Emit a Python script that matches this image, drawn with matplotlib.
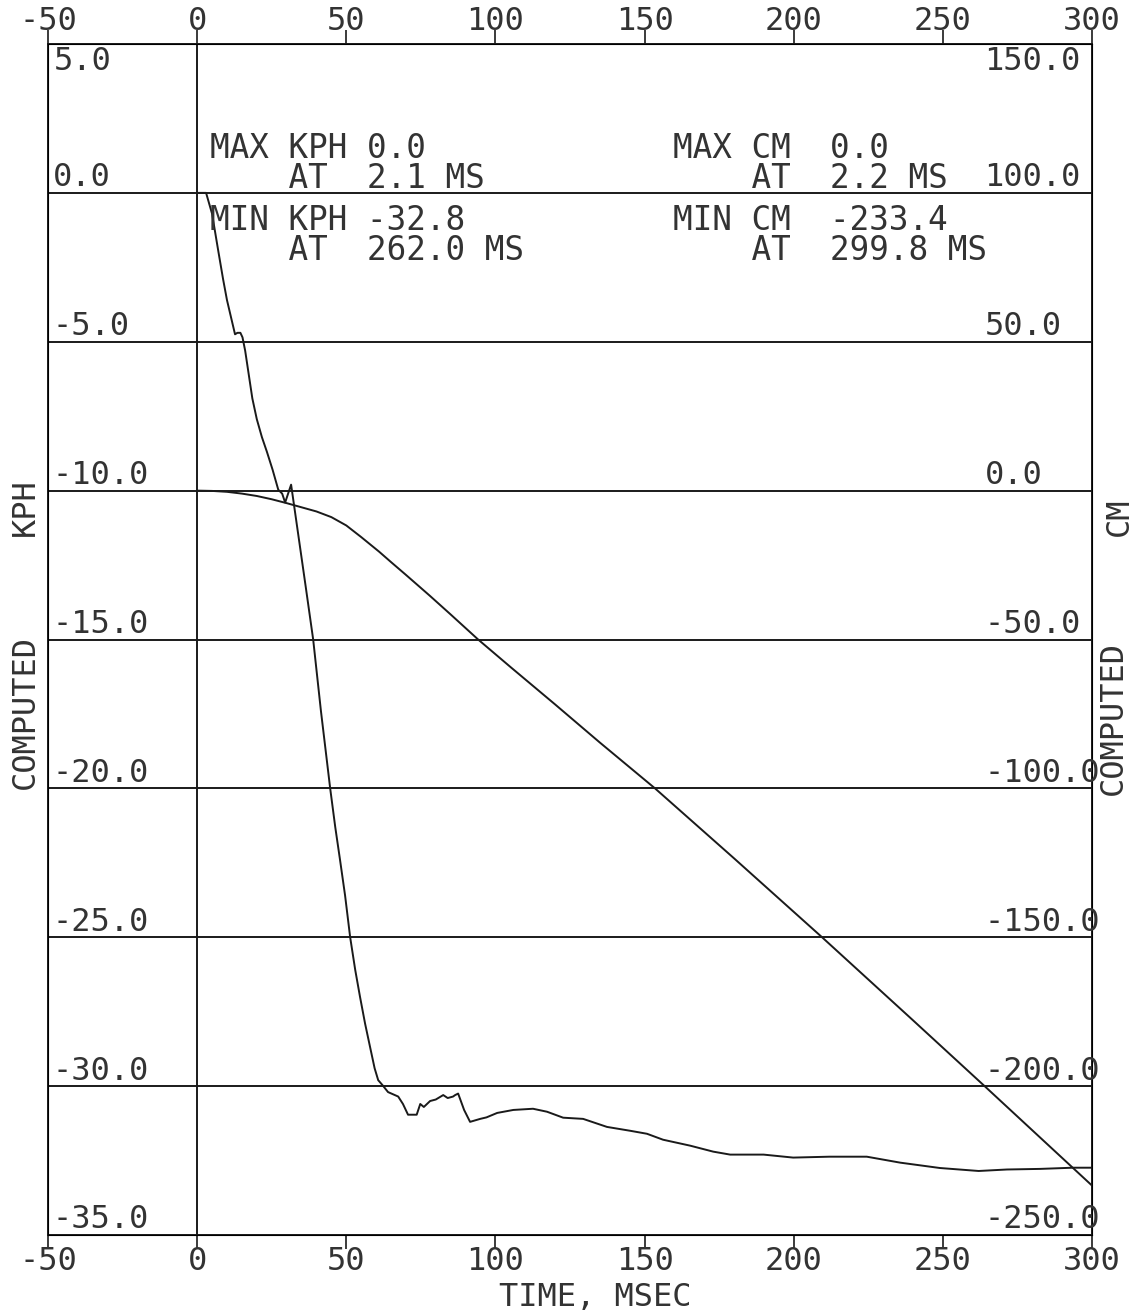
import numpy as np
import matplotlib
matplotlib.use('Agg')
import matplotlib.pyplot as plt

# computed velocity (kph) vs time (ms)
t_kph = [0, 3, 5, 7, 8.7, 10, 12.7, 13.5, 14.5, 15.2, 16.1, 17, 18.5, 20, 21.7, 23.4, 25.3,
         27.2, 28.5, 29.5, 30.5, 31.5, 32.5, 34.5, 36.5, 38.9, 41.5, 44.6, 46.3, 47.9,
         49.6, 51.3, 53, 54.6, 56.3, 58, 59.5, 60.7, 62, 64, 67.4, 69, 70.7, 73.6, 74.8,
         76, 78.1, 80, 82.5, 84, 85.8, 86.5, 87.5, 89.5, 91.5, 94.9, 97, 100.6, 106,
         112.6, 117.3, 122.7, 129.4, 137.4, 145.2, 150.8, 156.2, 165.3, 173, 178.7,
         189.9, 199.8, 212, 224.5, 235.7, 249, 262, 271.5, 282.6, 293.6, 300]
kph = [0, 0, -0.7, -1.9, -2.9, -3.6, -4.75, -4.7, -4.7, -4.85, -5.3, -5.9, -6.9, -7.6,
       -8.2, -8.7, -9.3, -9.97, -10.1, -10.4, -10.1, -9.8, -10.5, -11.9, -13.3, -15.0,
       -17.4, -20.0, -21.3, -22.4, -23.6, -25.0, -26.1, -27.0, -27.9, -28.7, -29.4, -29.8,
       -29.95, -30.2, -30.35, -30.6, -30.96, -30.96, -30.6, -30.7, -30.5, -30.45, -30.3,
       -30.4, -30.35, -30.3, -30.25, -30.8, -31.2, -31.1, -31.05, -30.9, -30.8, -30.76,
       -30.86, -31.06, -31.1, -31.37, -31.5, -31.6, -31.8, -32.0, -32.2, -32.3, -32.3,
       -32.4, -32.37, -32.37, -32.57, -32.75, -32.85, -32.8, -32.78, -32.74, -32.74]

# computed displacement (cm)
t_cm = [0, 5, 10, 15, 20, 25, 30, 35, 40, 45, 50, 55, 61, 65, 70, 78, 85, 94.2, 105, 120,
        135, 153.5, 180, 209.5, 240, 264, 300]
cm = [0, -0.1, -0.4, -1.0, -1.8, -2.9, -4.2, -5.6, -7.0, -8.9, -11.7, -15.6, -20.5,
      -24.0, -28.3, -35.3, -41.6, -50.0, -59.2, -71.8, -84.6, -100.0, -123.5, -150.0,
      -177.9, -200.0, -233.4]

x_ticks = [-50, 0, 50, 100, 150, 200, 250, 300]
kph_ticks = [5, 0, -5, -10, -15, -20, -25, -30, -35]
cm_ticks = [150, 100, 50, 0, -50, -100, -150, -200, -250]

plt.rcParams['font.family'] = ['DejaVu Sans Mono']
ink = '#1a1a1a'
txt = '#333333'
fs = 23
fs_note = 23.5

fig = plt.figure(figsize=(11.36, 13.15), dpi=100)
ax = fig.add_axes([48/1136, 1 - 1235/1315, 1044/1136, 1191/1315])
ax.set_xlim(-50, 300)
ax.set_ylim(-35, 5)

for v in kph_ticks[1:-1]:
    ax.axhline(v, color=ink, lw=1.4)
ax.axvline(0, color=ink, lw=1.4)
for s in ax.spines.values():
    s.set_color(ink)
    s.set_linewidth(1.4)

ax.plot(t_kph, kph, color=ink, lw=1.4)

# bottom axis
ax.set_xticks(x_ticks)
ax.set_xticklabels([str(x) for x in x_ticks])
ax.tick_params(axis='x', bottom=True, labelbottom=True, top=False,
               direction='out', length=10, width=1.2, color=ink, labelsize=fs,
               labelcolor=txt, pad=-2)
ax.set_yticks([])

# top axis
top = ax.secondary_xaxis('top')
top.set_xticks(x_ticks)
top.set_xticklabels([str(x) for x in x_ticks])
top.tick_params(axis='x', direction='out', length=10, width=1.2, color=ink,
                labelsize=fs, labelcolor=txt, pad=-5)
top.spines['top'].set_visible(False)

fig.text(595/1136, 1 - 1298/1315, 'TIME, MSEC', fontsize=fs, color=txt,
         ha='center', va='center')

ax2 = ax.twinx()
ax2.set_ylim(-250, 150)
ax2.set_yticks([])
ax2.plot(t_cm, cm, color=ink, lw=1.4)

# left scale labels (inside the frame)
for v in kph_ticks:
    if v == kph_ticks[0]:
        ax.text(-48, v - 0.08, '%.1f' % v, fontsize=fs, color=txt, ha='left', va='top')
    else:
        ax.text(-48.5, v + 0.22, '%.1f' % v, fontsize=fs, color=txt, ha='left', va='baseline')
# right scale labels
for c in cm_ticks:
    if c == cm_ticks[0]:
        ax2.text(264, c - 0.8, '%.1f' % c, fontsize=fs, color=txt, ha='left', va='top')
    else:
        ax2.text(264, c + 2.2, '%.1f' % c, fontsize=fs, color=txt, ha='left', va='baseline')

# axis titles
fig.text(25/1136, 1 - 507/1315, 'KPH', rotation=90, fontsize=fs, color=txt, ha='center', va='center')
fig.text(25/1136, 1 - 712/1315, 'COMPUTED', rotation=90, fontsize=fs, color=txt, ha='center', va='center')
fig.text(1119/1136, 1 - 517/1315, 'CM', rotation=90, fontsize=fs, color=txt, ha='center', va='center')
fig.text(1113/1136, 1 - 718/1315, 'COMPUTED', rotation=90, fontsize=fs, color=txt, ha='center', va='center')

# max / min annotations
notes_left = ['MAX KPH 0.0', '    AT  2.1 MS', 'MIN KPH -32.8', '    AT  262.0 MS']
notes_right = ['MAX CM  0.0', '    AT  2.2 MS', 'MIN CM  -233.4', '    AT  299.8 MS']
note_y = [148, 178, 221, 251]
for i in range(4):
    fig.text(210/1136, 1 - note_y[i]/1315, notes_left[i], fontsize=fs_note, color=txt,
             ha='left', va='center')
    fig.text(673/1136, 1 - note_y[i]/1315, notes_right[i], fontsize=fs_note, color=txt,
             ha='left', va='center')

plt.savefig('out.png', dpi=100)
